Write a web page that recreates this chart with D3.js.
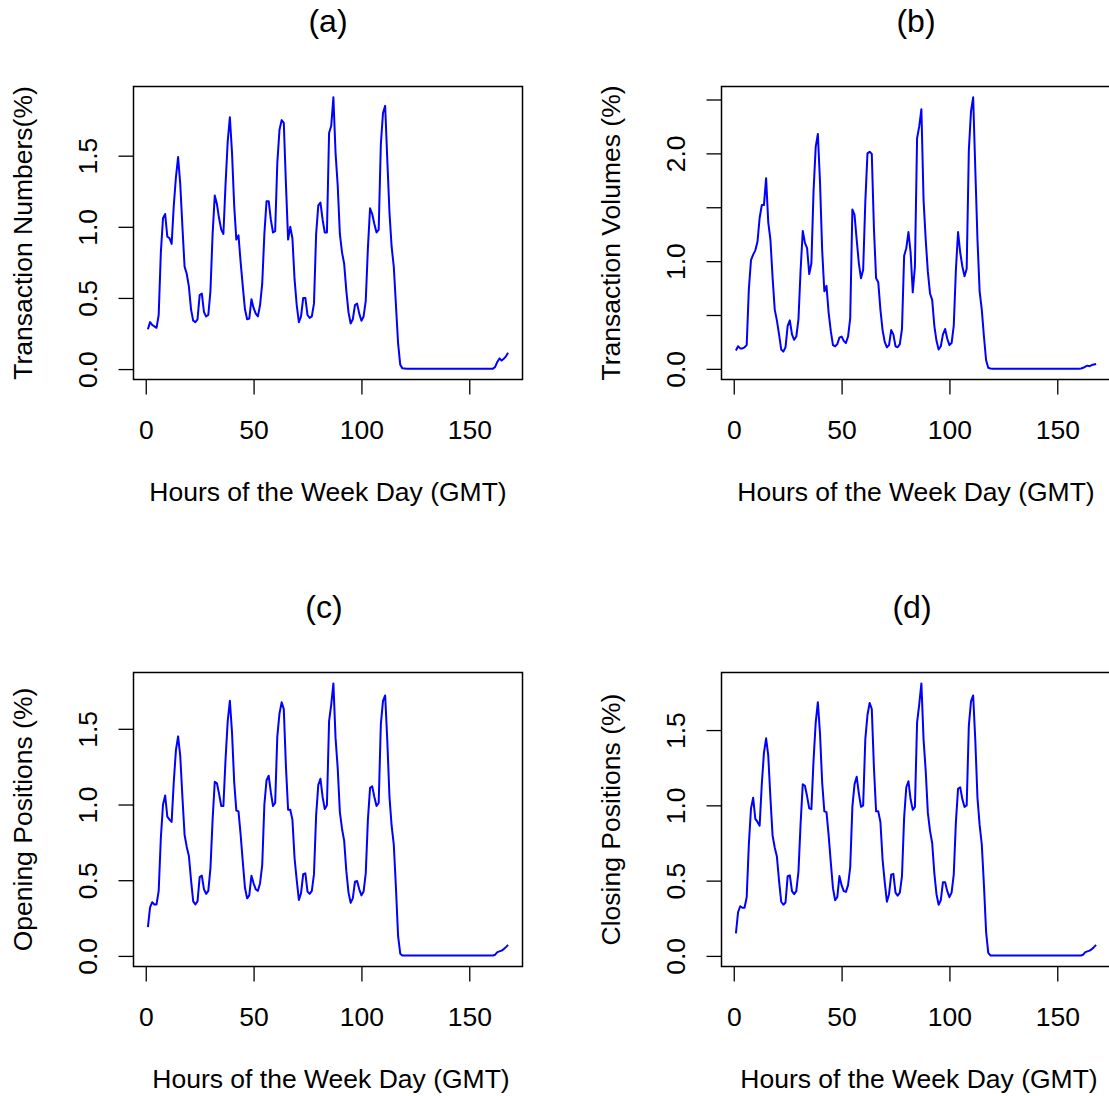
<!DOCTYPE html>
<html>
<head>
<meta charset="utf-8">
<script src="https://cdn.jsdelivr.net/npm/d3@7"></script>
<style>
  body { margin: 0; background: #fff; }
  text { font-family: "Liberation Sans", Arial, Helvetica, sans-serif; fill: #000; }
</style>
</head>
<body>
<div id="chart"></div>
<script>
// hourly shares (%) for hours 1..168 of the week
const txNumbers = [
  0.28, 0.33, 0.31, 0.30, 0.29, 0.38, 0.82, 1.06, 1.09, 0.93,
  0.92, 0.88, 1.15, 1.35, 1.49, 1.30, 1.00, 0.72, 0.67, 0.58,
  0.42, 0.34, 0.33, 0.35, 0.52, 0.53, 0.40, 0.37, 0.38, 0.55,
  0.95, 1.22, 1.16, 1.06, 0.98, 0.95, 1.30, 1.60, 1.77, 1.52,
  1.15, 0.91, 0.94, 0.75, 0.58, 0.42, 0.35, 0.355, 0.49, 0.43,
  0.39, 0.37, 0.45, 0.60, 0.95, 1.18, 1.18, 1.05, 0.96, 0.97,
  1.45, 1.68, 1.75, 1.73, 1.30, 0.91, 1.00, 0.92, 0.63, 0.45,
  0.33, 0.37, 0.50, 0.50, 0.38, 0.36, 0.37, 0.46, 0.95, 1.15,
  1.17, 1.05, 0.96, 0.96, 1.66, 1.71, 1.91, 1.52, 1.29, 0.95,
  0.82, 0.74, 0.55, 0.40, 0.32, 0.35, 0.45, 0.46, 0.39, 0.34,
  0.37, 0.48, 0.85, 1.13, 1.09, 1.02, 0.96, 0.98, 1.58, 1.80,
  1.85, 1.47, 1.10, 0.86, 0.72, 0.45, 0.18, 0.03, 0.005, 0.004,
  0.003, 0.003, 0.003, 0.003, 0.003, 0.003, 0.003, 0.003, 0.003, 0.003,
  0.003, 0.003, 0.003, 0.003, 0.003, 0.003, 0.003, 0.003, 0.003, 0.003,
  0.003, 0.003, 0.003, 0.003, 0.003, 0.003, 0.003, 0.003, 0.003, 0.003,
  0.003, 0.003, 0.003, 0.003, 0.003, 0.003, 0.003, 0.003, 0.003, 0.003,
  0.003, 0.015, 0.05, 0.075, 0.06, 0.072, 0.09, 0.115
];

const txVolumes = [
  0.17, 0.21, 0.19, 0.19, 0.20, 0.22, 0.74, 1.01, 1.06, 1.10,
  1.18, 1.40, 1.52, 1.52, 1.77, 1.36, 1.20, 0.85, 0.55, 0.45,
  0.32, 0.18, 0.16, 0.20, 0.40, 0.45, 0.32, 0.27, 0.30, 0.46,
  0.92, 1.28, 1.17, 1.12, 0.88, 0.98, 1.65, 2.06, 2.18, 1.73,
  1.10, 0.72, 0.77, 0.52, 0.35, 0.22, 0.21, 0.23, 0.29, 0.30,
  0.26, 0.24, 0.30, 0.47, 1.48, 1.43, 1.20, 0.98, 0.84, 0.92,
  1.55, 2.00, 2.015, 1.995, 1.30, 0.84, 0.805, 0.55, 0.36, 0.25,
  0.20, 0.22, 0.36, 0.32, 0.21, 0.20, 0.23, 0.37, 1.05, 1.12,
  1.27, 1.08, 0.71, 0.95, 2.14, 2.25, 2.41, 1.57, 1.20, 0.90,
  0.70, 0.64, 0.40, 0.26, 0.18, 0.21, 0.32, 0.37, 0.28, 0.22,
  0.24, 0.40, 0.92, 1.27, 1.08, 0.95, 0.86, 0.93, 2.03, 2.39,
  2.52, 1.85, 1.20, 0.72, 0.55, 0.30, 0.08, 0.01, 0.003, 0.002,
  0.002, 0.002, 0.002, 0.002, 0.002, 0.002, 0.002, 0.002, 0.002, 0.002,
  0.002, 0.002, 0.002, 0.002, 0.002, 0.002, 0.002, 0.002, 0.002, 0.002,
  0.002, 0.002, 0.002, 0.002, 0.002, 0.002, 0.002, 0.002, 0.002, 0.002,
  0.002, 0.002, 0.002, 0.002, 0.002, 0.002, 0.002, 0.002, 0.002, 0.002,
  0.004, 0.01, 0.02, 0.03, 0.025, 0.035, 0.04, 0.045
];

const openPositions = [
  0.19, 0.32, 0.355, 0.34, 0.34, 0.43, 0.78, 1.00, 1.06, 0.92,
  0.90, 0.885, 1.15, 1.36, 1.45, 1.32, 1.05, 0.80, 0.72, 0.66,
  0.50, 0.36, 0.34, 0.36, 0.52, 0.53, 0.44, 0.41, 0.43, 0.58,
  0.90, 1.15, 1.14, 1.07, 0.99, 0.99, 1.30, 1.55, 1.685, 1.475,
  1.15, 0.96, 0.955, 0.80, 0.62, 0.45, 0.38, 0.40, 0.53, 0.48,
  0.44, 0.43, 0.48, 0.60, 1.00, 1.16, 1.19, 1.08, 0.99, 1.01,
  1.45, 1.60, 1.675, 1.63, 1.25, 0.965, 0.965, 0.90, 0.645, 0.50,
  0.37, 0.415, 0.54, 0.545, 0.425, 0.41, 0.43, 0.54, 0.93, 1.13,
  1.17, 1.05, 0.97, 0.995, 1.55, 1.66, 1.80, 1.44, 1.24, 0.95,
  0.84, 0.76, 0.56, 0.42, 0.35, 0.38, 0.49, 0.495, 0.44, 0.40,
  0.425, 0.545, 0.90, 1.11, 1.12, 1.05, 0.99, 1.01, 1.53, 1.685,
  1.72, 1.42, 1.05, 0.86, 0.735, 0.45, 0.13, 0.015, 0.003, 0.002,
  0.002, 0.002, 0.002, 0.002, 0.002, 0.002, 0.002, 0.002, 0.002, 0.002,
  0.002, 0.002, 0.002, 0.002, 0.002, 0.002, 0.002, 0.002, 0.002, 0.002,
  0.002, 0.002, 0.002, 0.002, 0.002, 0.002, 0.002, 0.002, 0.002, 0.002,
  0.002, 0.002, 0.002, 0.002, 0.002, 0.002, 0.002, 0.002, 0.002, 0.002,
  0.003, 0.008, 0.025, 0.03, 0.035, 0.045, 0.058, 0.073
];

const closePositions = [
  0.15, 0.29, 0.33, 0.32, 0.32, 0.39, 0.74, 0.98, 1.05, 0.91,
  0.89, 0.865, 1.14, 1.35, 1.445, 1.33, 1.05, 0.80, 0.72, 0.66,
  0.50, 0.36, 0.34, 0.355, 0.53, 0.535, 0.43, 0.41, 0.43, 0.56,
  0.88, 1.14, 1.13, 1.06, 0.98, 0.975, 1.30, 1.55, 1.685, 1.475,
  1.15, 0.96, 0.955, 0.80, 0.62, 0.45, 0.37, 0.39, 0.53, 0.47,
  0.43, 0.425, 0.47, 0.59, 0.99, 1.14, 1.19, 1.08, 0.99, 1.00,
  1.44, 1.60, 1.68, 1.64, 1.25, 0.96, 0.96, 0.89, 0.64, 0.49,
  0.36, 0.41, 0.54, 0.545, 0.42, 0.40, 0.42, 0.53, 0.92, 1.12,
  1.16, 1.04, 0.97, 0.99, 1.55, 1.67, 1.81, 1.44, 1.23, 0.95,
  0.83, 0.75, 0.55, 0.41, 0.34, 0.37, 0.49, 0.49, 0.43, 0.39,
  0.42, 0.54, 0.89, 1.11, 1.12, 1.04, 0.99, 1.00, 1.53, 1.69,
  1.73, 1.43, 1.05, 0.87, 0.74, 0.47, 0.16, 0.02, 0.003, 0.002,
  0.002, 0.002, 0.002, 0.002, 0.002, 0.002, 0.002, 0.002, 0.002, 0.002,
  0.002, 0.002, 0.002, 0.002, 0.002, 0.002, 0.002, 0.002, 0.002, 0.002,
  0.002, 0.002, 0.002, 0.002, 0.002, 0.002, 0.002, 0.002, 0.002, 0.002,
  0.002, 0.002, 0.002, 0.002, 0.002, 0.002, 0.002, 0.002, 0.002, 0.002,
  0.003, 0.008, 0.025, 0.03, 0.035, 0.045, 0.058, 0.073
];

const xTicks = [0, 50, 100, 150];
const yTicksShort = [0, 0.5, 1.0, 1.5];
const yLabelsShort = ["0.0", "0.5", "1.0", "1.5"];
const yTicksLong = [0, 0.5, 1.0, 1.5, 2.0, 2.5];
const yLabelsLong = ["0.0", "", "1.0", "", "2.0", ""];
const xTitle = "Hours of the Week Day (GMT)";

const panels = [
  { title: "(a)", ylab: "Transaction Numbers(%)", values: txNumbers, yTicks: yTicksShort, yLabels: yLabelsShort,
    left: 133.5, top: 86.5, h: 293, titleDx: 0, xlabDx: 0 },
  { title: "(b)", ylab: "Transaction Volumes (%)", values: txVolumes, yTicks: yTicksLong, yLabels: yLabelsLong,
    left: 721.5, top: 86.5, h: 293, titleDx: 0, xlabDx: 0 },
  { title: "(c)", ylab: "Opening Positions (%)", values: openPositions, yTicks: yTicksShort, yLabels: yLabelsShort,
    left: 133.5, top: 672.5, h: 294, titleDx: -4, xlabDx: 3 },
  { title: "(d)", ylab: "Closing Positions (%)", values: closePositions, yTicks: yTicksShort, yLabels: yLabelsShort,
    left: 721.5, top: 672.5, h: 294, titleDx: -4, xlabDx: 3 }
];

const W = 1109, H = 1096;
const boxW = 389;
const fontSize = 26.5;

const svg = d3.select("#chart")
  .append("svg")
  .attr("width", W)
  .attr("height", H)
  .attr("viewBox", `0 0 ${W} ${H}`);

panels.forEach(p => {
  const data = p.values.map((v, i) => [i + 1, v]);
  const n = data.length;

  // R style: 4% padding on each side of the data range
  const xPad = (n - 1) * 0.04;
  const x = d3.scaleLinear().domain([1 - xPad, n + xPad]).range([0, boxW]);
  const [ymin, ymax] = d3.extent(p.values);
  const yPad = (ymax - ymin) * 0.04;
  const y = d3.scaleLinear().domain([ymin - yPad, ymax + yPad]).range([p.h, 0]);

  const g = svg.append("g")
    .attr("transform", `translate(${p.left},${p.top})`);

  // x axis
  const xa = g.append("g")
    .attr("transform", `translate(0,${p.h})`)
    .call(d3.axisBottom(x).tickValues(xTicks).tickFormat(d3.format("d")).tickSize(15));
  xa.select(".domain").remove();
  xa.selectAll("line").attr("stroke", "#000").attr("stroke-width", 1.3);
  xa.selectAll("text")
    .attr("y", 50)
    .attr("dy", "0.35em")
    .style("font-size", fontSize + "px")
    .style("font-family", '"Liberation Sans", Arial, Helvetica, sans-serif');

  // y axis, labels parallel to the axis
  const ya = g.append("g")
    .call(d3.axisLeft(y).tickValues(p.yTicks).tickFormat((d, i) => p.yLabels[i]).tickSize(15));
  ya.select(".domain").remove();
  ya.selectAll("line").attr("stroke", "#000").attr("stroke-width", 1.3);
  ya.selectAll("text")
    .attr("x", null)
    .attr("dy", null)
    .attr("transform", "translate(-37,0) rotate(-90)")
    .attr("text-anchor", "middle")
    .style("font-size", fontSize + "px")
    .style("font-family", '"Liberation Sans", Arial, Helvetica, sans-serif');

  // series line
  const line = d3.line()
    .x(d => x(d[0]))
    .y(d => y(d[1]));

  g.append("path")
    .datum(data)
    .attr("fill", "none")
    .attr("stroke", "#0000ff")
    .attr("stroke-width", 2)
    .attr("stroke-linejoin", "round")
    .attr("d", line);

  // plot box
  g.append("rect")
    .attr("x", 0)
    .attr("y", 0)
    .attr("width", boxW)
    .attr("height", p.h)
    .attr("fill", "none")
    .attr("stroke", "#000")
    .attr("stroke-width", 1.5);

  // titles and axis labels
  g.append("text")
    .attr("x", boxW / 2 + p.titleDx)
    .attr("y", -55)
    .attr("text-anchor", "middle")
    .style("font-size", "32px")
    .text(p.title);

  g.append("text")
    .attr("x", boxW / 2 + p.xlabDx)
    .attr("y", p.h + 121)
    .attr("text-anchor", "middle")
    .style("font-size", fontSize + "px")
    .text(xTitle);

  g.append("text")
    .attr("transform", `translate(-102,${p.h / 2}) rotate(-90)`)
    .attr("text-anchor", "middle")
    .style("font-size", fontSize + "px")
    .text(p.ylab);
});
</script>
</body>
</html>
